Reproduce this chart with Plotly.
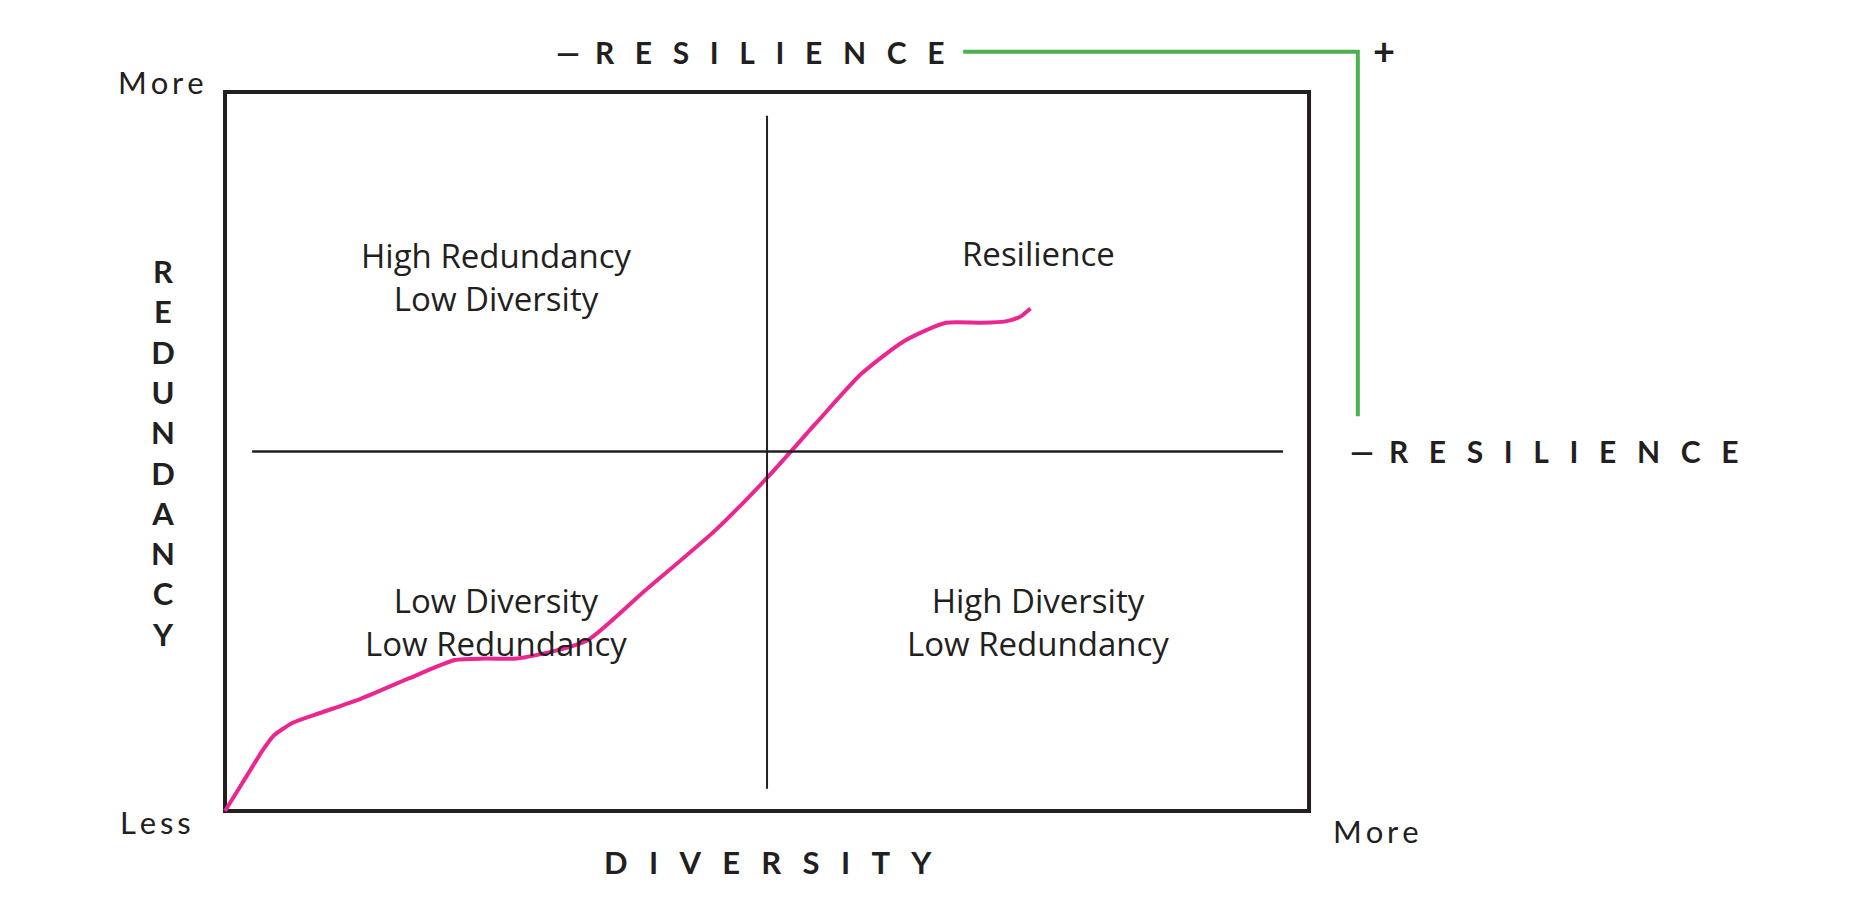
import plotly.graph_objects as go

# Data in chart units: both axes run 0 (less) to 100 (more) inside the box
curve_x = [0, 1.6, 3.5, 4.5, 6.3, 8.7, 12.5, 16.9, 21.2, 24.0, 26.9, 30.5, 33.5,
           38.7, 45.2, 50.1, 54.5, 58.7, 62.7, 66.5, 69.8, 72.0, 73.3, 74.3]
curve_y = [0, 3.9, 8.5, 10.5, 12.3, 13.6, 15.6, 18.4, 21.0, 21.2, 21.2, 22.3, 23.8,
           30.6, 39.0, 46.5, 53.9, 60.8, 65.4, 67.9, 67.9, 68.1, 68.7, 69.9]

quadrant_labels = ["High Redundancy<br>Low Diversity", "Resilience",
                   "Low Diversity<br>Low Redundancy", "High Diversity<br>Low Redundancy"]
quadrant_x = [25, 75, 25, 75]
quadrant_y = [74.3, 77.5, 26.3, 26.3]

# green "resilience" bracket
bracket_x = [68.1, 104.5, 104.5]
bracket_y = [105.6, 105.6, 54.9]

INK = "#231F20"
PINK = "#EC268F"
GREEN = "#4CAF50"
FONT = "Lato, sans-serif"
TRACK = "\u2002\u2009\u200a"


def tracked(word, gap=TRACK):
    # fake letter-spacing, plotly has no tracking option
    return gap.join(word)


fig = go.Figure()

# frame
fig.add_shape(type="rect", x0=0, y0=0, x1=100, y1=100,
              line=dict(color=INK, width=4), layer="below")
# quadrant dividers
fig.add_shape(type="line", x0=50, x1=50, y0=3.1, y1=96.7, line=dict(color=INK, width=2))
fig.add_shape(type="line", x0=2.5, x1=97.6, y0=50, y1=50, line=dict(color=INK, width=2.5))

fig.add_trace(go.Scatter(
    x=bracket_x, y=bracket_y, mode="lines",
    line=dict(color=GREEN, width=4), hoverinfo="skip"
))

fig.add_trace(go.Scatter(
    x=curve_x, y=curve_y, mode="lines",
    line=dict(color=PINK, width=4, shape="spline", smoothing=0.6),
    hoverinfo="skip"
))

for txt, qx, qy in zip(quadrant_labels, quadrant_x, quadrant_y):
    fig.add_annotation(x=qx, y=qy, text=txt, showarrow=False,
                       font=dict(family="Open Sans, sans-serif", size=33, color=INK))

caps = dict(family=FONT, size=30, color=INK, weight="bold")
resilience = "\u2014" + "\u2002" + tracked("RESILIENCE")

fig.add_annotation(x=48.4, y=105.6, text=resilience, showarrow=False, font=caps)
fig.add_annotation(x=103.6, y=50.1, xanchor="left", text=resilience,
                   showarrow=False, font=caps)
fig.add_annotation(x=106.9, y=105.9, text="+", showarrow=False,
                   font=dict(family=FONT, size=38, color=INK, weight="bold"))
fig.add_annotation(x=50.1, y=-7.1, text=tracked("DIVERSITY"), showarrow=False,
                   font=dict(family=FONT, size=31, color=INK, weight="bold"))
fig.add_annotation(x=-5.7, y=49.9, text="<br>".join("REDUNDANCY"), showarrow=False,
                   font=dict(family=FONT, size=31, color=INK, weight="bold"))

small = dict(family=FONT, size=31, color=INK)
fig.add_annotation(x=-1.8, y=101.4, xanchor="right", text=tracked("More", "\u2009"),
                   showarrow=False, font=small)
fig.add_annotation(x=-3.0, y=-1.5, xanchor="right", text=tracked("Less", "\u2009"),
                   showarrow=False, font=small)
fig.add_annotation(x=102.0, y=-2.8, xanchor="left", text=tracked("More", "\u2009"),
                   showarrow=False, font=small)

# ranges shifted by the page's 8px body margin
fig.update_layout(
    width=1854,
    height=907,
    paper_bgcolor="white",
    plot_bgcolor="white",
    showlegend=False,
    margin=dict(l=0, r=0, t=0, b=0),
    xaxis=dict(range=[-20.02, 151.01], visible=False, fixedrange=True),
    yaxis=dict(range=[-14.46, 111.68], visible=False, fixedrange=True),
)

fig.write_html("out.html")
